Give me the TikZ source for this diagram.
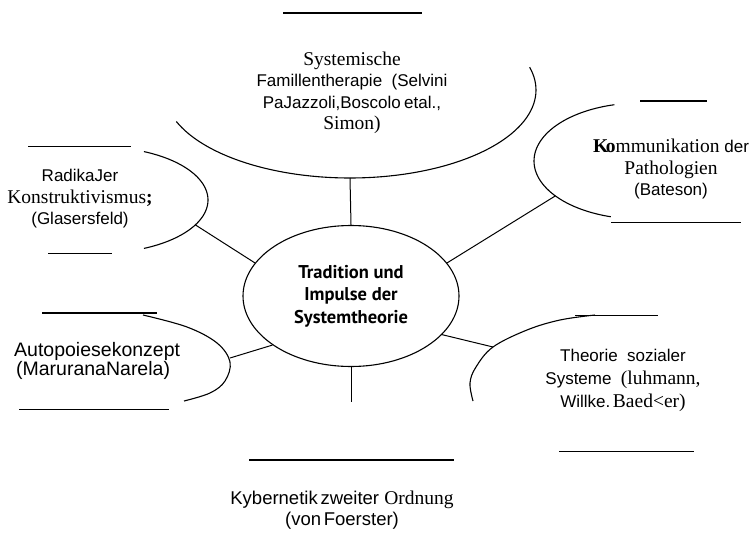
\documentclass[tikz,border=0pt]{standalone}
\usepackage{fontspec}
\setmainfont{Liberation Sans}
\newfontfamily\serifTNR{Liberation Serif}
\newfontfamily\coreFont{PT Sans}
\usetikzlibrary{shapes.geometric}
\newcommand\sr[1]{{\fontsize{19.5}{\baselineskip}\selectfont\serifTNR #1}}
\begin{document}
\begin{tikzpicture}[x=1pt,y=-1pt,
  arcline/.style={line width=1.1pt},
  conn/.style={line width=1pt},
  rulethin/.style={line width=0.9pt},
  rulethick/.style={line width=1.4pt},
  lbl/.style={align=center, inner sep=0pt, font=\fontsize{17}{21.5}\selectfont},
  ]
\useasboundingbox (0,0) rectangle (752,559);

% central ellipse
\node[ellipse, draw, line width=1.1pt, minimum width=216pt, minimum height=141pt,
      inner sep=0pt, align=center,
      font=\coreFont\bfseries\fontsize{18.5}{22.5}\selectfont] (core) at (351,296)
      {Tradition und\\Impulse der\\Systemtheorie};

% partial outlines
\draw[arcline] plot[domain=-15:159, samples=80, smooth, variable=\t]
  ({350+186*cos(\t)},{90+88*sin(\t)});
\coordinate (sysB) at (350,178);

\draw[arcline] plot[domain=-66:66, samples=60, smooth, variable=\t]
  ({100+108*cos(\t)},{200+53*sin(\t)});
\coordinate (radC) at ({100+108*cos(28)},{200+53*sin(28)});

\draw[arcline] plot[domain=106:256, samples=60, smooth, variable=\t]
  ({640+106*cos(\t)},{161+58*sin(\t)});
\coordinate (komC) at ({640+106*cos(143)},{161+58*sin(143)});

\draw[arcline] plot[smooth, tension=0.6] coordinates
  {(143,315) (187,327) (217,343) (230,362) (225,381) (210,393) (184,401)};
\coordinate (autC) at (230,358);

\draw[arcline] plot[smooth, tension=0.6] coordinates
  {(595,315) (560,320) (527,330) (493,347) (476,367) (470,383) (473,401)};
\coordinate (theC) at (493,347);

\coordinate (kybT) at (351,402);

% connectors
\draw[conn] (sysB) -- (core.north);
\draw[conn] (radC) -- (core.161);
\draw[conn] (komC) -- (core.19);
\draw[conn] (autC) -- (core.212);
\draw[conn] (theC) -- (core.337);
\draw[conn] (core.south) -- (kybT);

% horizontal rules
\draw[rulethick] (283,13) -- (422,13);
\draw[rulethin] (28,146) -- (131,146);
\draw[rulethin] (48,253) -- (112,253);
\draw[rulethick] (640,101) -- (707,101);
\draw[rulethin] (611,222) -- (741,222);
\draw[rulethick] (42,313) -- (157,313);
\draw[rulethin] (19,409) -- (169,409);
\draw[rulethin] (575,315) -- (658,315);
\draw[rulethin] (559,451) -- (694,451);
\draw[rulethick] (249,460) -- (454,460);

% labels
\node[lbl] (sys) at (352,93)
  {\sr{Systemische}\\Famillentherapie\ \ (Selvini\\PaJazzoli,Boscolo\hspace{0.2em}etal.,\\\sr{Simon)}};
\node[lbl] (rad) at (80,199)
  {RadikaJer\\\sr{Konstruktivismus\textbf{;}}\\(Glasersfeld)};
\node[lbl] (kom) at (671,169)
  {\sr{\textbf{K}\kern-0.12em\textbf{o}mmunikation} der\\\sr{Pathologien}\\(Bateson)};
\node[lbl, align=left, anchor=west, font=\fontsize{19.5}{19}\selectfont] (aut) at (14,361)
  {Autopoiesekonzept\\\hspace{0.1em}(MaruranaNarela)};
\node[lbl, font=\fontsize{17}{23}\selectfont] (theo) at (623,380)
  {Theorie\ \ sozialer\\Systeme\ \ \sr{(luhmann,}\\Willke.\hspace{0.15em}\sr{Baed<er)}};
\node[lbl, font=\fontsize{18.5}{21}\selectfont] (kyb) at (342,510)
  {Kybernetik\hspace{0.15em}zweiter \sr{Ordnung}\\(von\hspace{0.15em}Foerster)};
\end{tikzpicture}
\end{document}
